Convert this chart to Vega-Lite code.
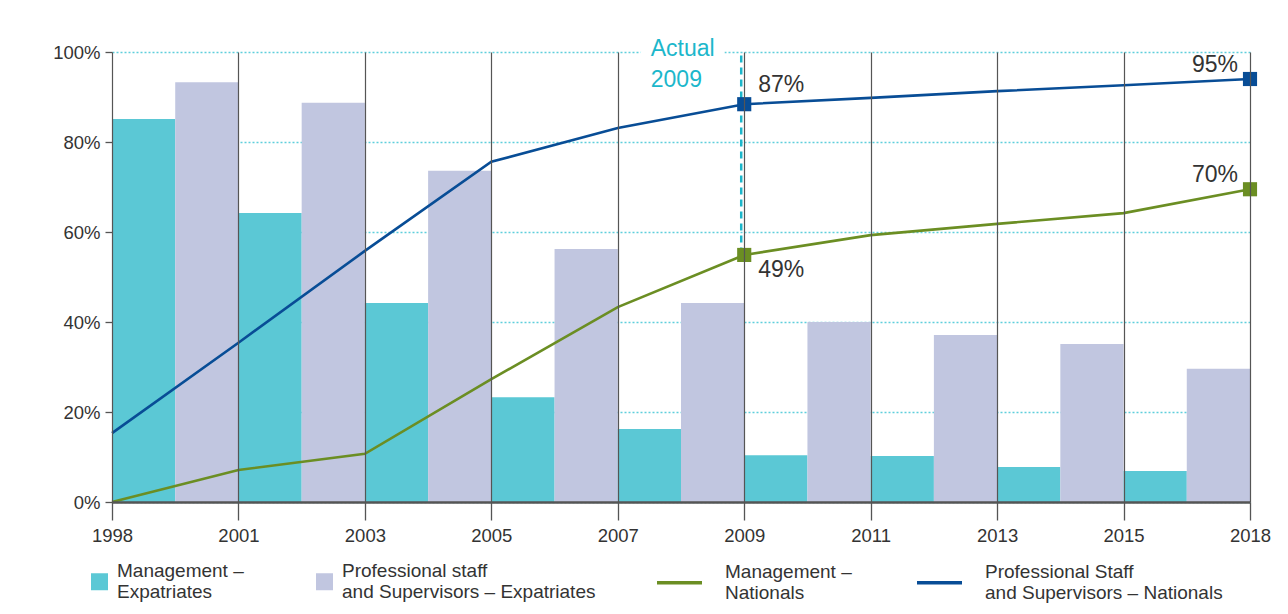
{
  "$schema": "https://vega.github.io/schema/vega-lite/v6.json",
  "width": 1138,
  "height": 450,
  "autosize": "none",
  "padding": {"left": 112, "top": 52, "right": 38, "bottom": 112},
  "background": "white",
  "config": {
    "font": "Liberation Sans",
    "view": {"stroke": null},
    "legend": {"padding": 0}
  },
  "datasets": {
    "bars": [
      {"period": "1998-2001", "series": "Management – Expatriates", "value": 85.1},
      {"period": "1998-2001", "series": "Professional staff and Supervisors – Expatriates", "value": 93.3},
      {"period": "2001-2003", "series": "Management – Expatriates", "value": 64.2},
      {"period": "2001-2003", "series": "Professional staff and Supervisors – Expatriates", "value": 88.7},
      {"period": "2003-2005", "series": "Management – Expatriates", "value": 44.2},
      {"period": "2003-2005", "series": "Professional staff and Supervisors – Expatriates", "value": 73.6},
      {"period": "2005-2007", "series": "Management – Expatriates", "value": 23.3},
      {"period": "2005-2007", "series": "Professional staff and Supervisors – Expatriates", "value": 56.2},
      {"period": "2007-2009", "series": "Management – Expatriates", "value": 16.2},
      {"period": "2007-2009", "series": "Professional staff and Supervisors – Expatriates", "value": 44.2},
      {"period": "2009-2011", "series": "Management – Expatriates", "value": 10.4},
      {"period": "2009-2011", "series": "Professional staff and Supervisors – Expatriates", "value": 40.0},
      {"period": "2011-2013", "series": "Management – Expatriates", "value": 10.2},
      {"period": "2011-2013", "series": "Professional staff and Supervisors – Expatriates", "value": 37.1},
      {"period": "2013-2015", "series": "Management – Expatriates", "value": 7.8},
      {"period": "2013-2015", "series": "Professional staff and Supervisors – Expatriates", "value": 35.1},
      {"period": "2015-2018", "series": "Management – Expatriates", "value": 6.9},
      {"period": "2015-2018", "series": "Professional staff and Supervisors – Expatriates", "value": 29.6}
    ],
    "lines": [
      {"year": "1998", "series": "Management – Nationals", "value": 0},
      {"year": "2001", "series": "Management – Nationals", "value": 7.1},
      {"year": "2003", "series": "Management – Nationals", "value": 10.7},
      {"year": "2005", "series": "Management – Nationals", "value": 27.3},
      {"year": "2007", "series": "Management – Nationals", "value": 43.3},
      {"year": "2009", "series": "Management – Nationals", "value": 54.9, "label": "49%", "pos": "below"},
      {"year": "2011", "series": "Management – Nationals", "value": 59.3},
      {"year": "2013", "series": "Management – Nationals", "value": 61.8},
      {"year": "2015", "series": "Management – Nationals", "value": 64.2},
      {"year": "2018", "series": "Management – Nationals", "value": 69.5, "label": "70%", "pos": "end"},
      {"year": "1998", "series": "Professional Staff and Supervisors – Nationals", "value": 15.3},
      {"year": "2001", "series": "Professional Staff and Supervisors – Nationals", "value": 35.4},
      {"year": "2003", "series": "Professional Staff and Supervisors – Nationals", "value": 55.8},
      {"year": "2005", "series": "Professional Staff and Supervisors – Nationals", "value": 75.6},
      {"year": "2007", "series": "Professional Staff and Supervisors – Nationals", "value": 83.1},
      {"year": "2009", "series": "Professional Staff and Supervisors – Nationals", "value": 88.4, "label": "87%", "pos": "above"},
      {"year": "2011", "series": "Professional Staff and Supervisors – Nationals", "value": 89.8},
      {"year": "2013", "series": "Professional Staff and Supervisors – Nationals", "value": 91.3},
      {"year": "2015", "series": "Professional Staff and Supervisors – Nationals", "value": 92.6},
      {"year": "2018", "series": "Professional Staff and Supervisors – Nationals", "value": 94.0, "label": "95%", "pos": "end"}
    ],
    "note": [
      {"year": "2009", "from": 55, "to": 100, "textYear": "2007"}
    ]
  },
  "layer": [
    {
      "data": {"name": "bars"},
      "mark": {"type": "bar"},
      "encoding": {
        "x": {
          "field": "period", "type": "nominal", "sort": null,
          "scale": {"type": "band", "paddingInner": 0, "paddingOuter": 0},
          "axis": null
        },
        "xOffset": {
          "field": "series", "type": "nominal",
          "sort": ["Management – Expatriates", "Professional staff and Supervisors – Expatriates"],
          "scale": {"paddingInner": 0, "paddingOuter": 0}
        },
        "y": {
          "field": "value", "type": "quantitative",
          "scale": {"domain": [0, 100], "nice": false},
          "axis": {
            "values": [0, 20, 40, 60, 80, 100],
            "labelExpr": "datum.value + '%'",
            "title": null,
            "domain": false,
            "grid": true,
            "gridColor": "#5fcfdc",
            "gridDash": [2, 2],
            "gridWidth": 1.3,
            "ticks": true,
            "tickSize": 7,
            "tickColor": "#555",
            "tickWidth": 1.3,
            "labelPadding": 5,
            "labelFontSize": 18.5,
            "labelColor": "#333"
          }
        },
        "color": {
          "field": "series", "type": "nominal",
          "scale": {
            "domain": ["Management – Expatriates", "Professional staff and Supervisors – Expatriates"],
            "range": ["#5bc8d5", "#c1c6e0"]
          },
          "legend": {
            "title": null,
            "orient": "none",
            "legendX": -22,
            "legendY": 520,
            "direction": "horizontal",
            "symbolType": "square",
            "symbolSize": 289,
            "symbolStrokeWidth": 0,
            "labelFontSize": 19,
            "labelColor": "#333",
            "labelOffset": 8,
            "labelLimit": 400,
            "labelBaseline": "line-bottom",
            "columnPadding": 71,
            "labelExpr": "datum.label == 'Management – Expatriates' ? ['Management –', 'Expatriates'] : ['Professional staff', 'and Supervisors  – Expatriates']"
          }
        }
      }
    },
    {
      "layer": [
        {
          "data": {"name": "note"},
          "mark": {"type": "rule", "color": "#1cb7cb", "strokeWidth": 2.5, "strokeDash": [7, 5], "xOffset": -3},
          "encoding": {
            "x": {
              "field": "year", "type": "ordinal",
              "scale": {"type": "point", "padding": 0},
              "axis": {
                "title": null,
                "zindex": 1,
                "grid": true,
                "gridColor": "#555",
                "gridWidth": 1.2,
                "domain": true,
                "domainColor": "#555",
                "domainWidth": 2.5,
                "ticks": true,
                "tickSize": 18,
                "tickColor": "#555",
                "tickWidth": 1.3,
                "labelAngle": 0,
                "labelAlign": "center",
                "labelBaseline": "top",
                "labelPadding": 6,
                "labelFontSize": 18.5,
                "labelColor": "#333"
              }
            },
            "y": {"field": "from", "type": "quantitative"},
            "y2": {"field": "to"}
          }
        },
        {
          "data": {"name": "note"},
          "mark": {"type": "text", "text": ["Actual", "2009"], "align": "left", "baseline": "alphabetic", "dx": 33, "dy": 4, "fontSize": 23, "lineHeight": 31, "color": "white", "stroke": "white", "strokeWidth": 22},
          "encoding": {
            "x": {"field": "textYear", "type": "ordinal"},
            "y": {"field": "to", "type": "quantitative"}
          }
        },
        {
          "data": {"name": "note"},
          "mark": {"type": "text", "text": ["Actual", "2009"], "align": "left", "baseline": "alphabetic", "dx": 33, "dy": 4, "fontSize": 23, "lineHeight": 31, "color": "#1cb7cb"},
          "encoding": {
            "x": {"field": "textYear", "type": "ordinal"},
            "y": {"field": "to", "type": "quantitative"}
          }
        },
        {
          "data": {"name": "lines"},
          "mark": {"type": "line", "strokeWidth": 2.6},
          "encoding": {
            "x": {"field": "year", "type": "ordinal"},
            "y": {"field": "value", "type": "quantitative"},
            "stroke": {
              "field": "series", "type": "nominal",
              "scale": {
                "domain": ["Management – Nationals", "Professional Staff and Supervisors – Nationals"],
                "range": ["#6b8e23", "#084d96"]
              },
              "legend": {
                "title": null,
                "orient": "none",
                "legendX": 543,
                "legendY": 506,
                "direction": "horizontal",
                "symbolType": "stroke",
                "symbolSize": 2025,
                "symbolStrokeWidth": 3.5,
                "labelFontSize": 19,
                "labelColor": "#333",
                "labelOffset": 21,
                "labelLimit": 400,
                "labelBaseline": "line-bottom",
                "columnPadding": 58,
                "labelExpr": "datum.label == 'Management – Nationals' ? ['Management –', 'Nationals'] : ['Professional Staff', 'and Supervisors – Nationals']"
              }
            }
          }
        },
        {
          "data": {"name": "lines"},
          "transform": [{"filter": "datum.label != null"}],
          "mark": {"type": "point", "shape": "square", "filled": true, "size": 200, "opacity": 1},
          "encoding": {
            "x": {"field": "year", "type": "ordinal"},
            "y": {"field": "value", "type": "quantitative"},
            "fill": {
              "field": "series", "type": "nominal",
              "scale": {
                "domain": ["Management – Nationals", "Professional Staff and Supervisors – Nationals"],
                "range": ["#6b8e23", "#084d96"]
              },
              "legend": null
            }
          }
        },
        {
          "data": {"name": "lines"},
          "transform": [{"filter": "datum.pos == 'above'"}],
          "mark": {"type": "text", "align": "left", "baseline": "middle", "dx": 14, "dy": -19, "fontSize": 23, "color": "#333"},
          "encoding": {
            "x": {"field": "year", "type": "ordinal"},
            "y": {"field": "value", "type": "quantitative"},
            "text": {"field": "label"}
          }
        },
        {
          "data": {"name": "lines"},
          "transform": [{"filter": "datum.pos == 'below'"}],
          "mark": {"type": "text", "align": "left", "baseline": "middle", "dx": 14, "dy": 15, "fontSize": 23, "color": "#333"},
          "encoding": {
            "x": {"field": "year", "type": "ordinal"},
            "y": {"field": "value", "type": "quantitative"},
            "text": {"field": "label"}
          }
        },
        {
          "data": {"name": "lines"},
          "transform": [{"filter": "datum.pos == 'end'"}],
          "mark": {"type": "text", "align": "right", "baseline": "middle", "dx": -12, "dy": -14, "fontSize": 23, "color": "#333"},
          "encoding": {
            "x": {"field": "year", "type": "ordinal"},
            "y": {"field": "value", "type": "quantitative"},
            "text": {"field": "label"}
          }
        }
      ]
    }
  ],
  "resolve": {"scale": {"x": "independent"}, "axis": {"x": "independent"}}
}
